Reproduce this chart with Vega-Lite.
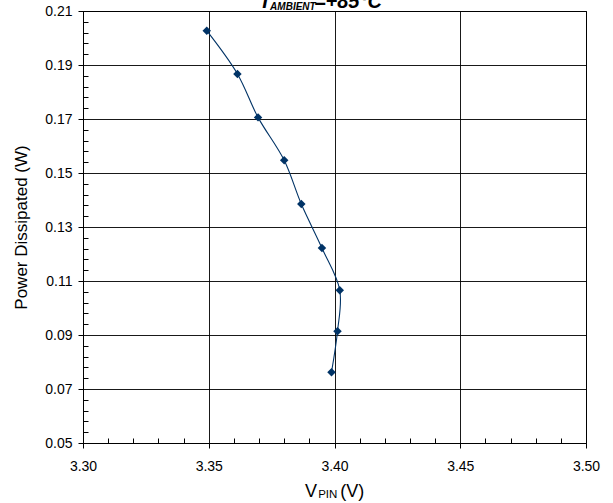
{
  "$schema": "https://vega.github.io/schema/vega-lite/v6.json",
  "width": 503,
  "height": 432,
  "autosize": "none",
  "padding": {"left": 83, "top": 11, "right": 27, "bottom": 60},
  "background": "white",
  "config": {
    "view": {"stroke": "#000", "strokeWidth": 1},
    "font": "Liberation Sans",
    "axis": {"labelFont": "Liberation Sans", "titleFont": "Liberation Sans", "labelColor": "#000", "titleColor": "#000", "tickColor": "#000", "domainColor": "#000"},
    "text": {"font": "Liberation Sans", "color": "#000"}
  },
  "data": {
    "values": [
      {"i": 1, "v": 3.3492, "p": 0.2027},
      {"i": 2, "v": 3.3614, "p": 0.1867},
      {"i": 3, "v": 3.3696, "p": 0.1706},
      {"i": 4, "v": 3.3800, "p": 0.1547},
      {"i": 5, "v": 3.3868, "p": 0.1385},
      {"i": 6, "v": 3.3950, "p": 0.1222},
      {"i": 7, "v": 3.4021, "p": 0.1066},
      {"i": 8, "v": 3.4012, "p": 0.0914},
      {"i": 9, "v": 3.3988, "p": 0.0762}
    ]
  },
  "layer": [
    {
      "mark": {"type": "line", "interpolate": "catmull-rom", "color": "#003366", "strokeWidth": 1.1},
      "encoding": {
        "x": {"field": "v", "type": "quantitative", "scale": {"domain": [3.3, 3.5], "nice": false, "zero": false},
          "axis": {"orient": "bottom", "values": [3.3, 3.35, 3.4, 3.45, 3.5], "format": ".2f", "grid": true, "gridColor": "#000", "gridOpacity": 0.9, "tickSize": 5, "labelFontSize": 14, "labelPadding": 11, "title": null, "labelFlush": false}},
        "y": {"field": "p", "type": "quantitative", "scale": {"domain": [0.05, 0.21], "nice": false, "zero": false},
          "axis": {"orient": "left", "values": [0.05, 0.07, 0.09, 0.11, 0.13, 0.15, 0.17, 0.19, 0.21], "format": ".2f", "grid": true, "gridColor": "#000", "gridOpacity": 0.9, "tickSize": 5, "labelFontSize": 14, "labelPadding": 6, "title": "Power Dissipated (W)", "titleFontSize": 17, "titleFontWeight": "normal", "titlePadding": 14, "labelFlush": false}},
        "order": {"field": "i", "type": "quantitative"}
      }
    },
    {
      "mark": {"type": "point", "shape": "diamond", "filled": true, "color": "#003366", "size": 72, "opacity": 1},
      "encoding": {
        "x": {"field": "v", "type": "quantitative", "scale": {"domain": [3.3, 3.5], "nice": false, "zero": false},
          "axis": {"orient": "bottom", "values": [3.31, 3.32, 3.33, 3.34, 3.36, 3.37, 3.38, 3.39, 3.41, 3.42, 3.43, 3.44, 3.46, 3.47, 3.48, 3.49], "labels": false, "grid": false, "domain": false, "tickSize": -5, "title": null}},
        "y": {"field": "p", "type": "quantitative", "scale": {"domain": [0.05, 0.21], "nice": false, "zero": false},
          "axis": {"orient": "left", "values": [0.054, 0.058, 0.062, 0.066, 0.074, 0.078, 0.082, 0.086, 0.094, 0.098, 0.102, 0.106, 0.114, 0.118, 0.122, 0.126, 0.134, 0.138, 0.142, 0.146, 0.154, 0.158, 0.162, 0.166, 0.174, 0.178, 0.182, 0.186, 0.194, 0.198, 0.202, 0.206], "labels": false, "grid": false, "domain": false, "tickSize": -5, "title": null}}
      }
    },
    {
      "data": {"values": [{}]},
      "mark": {"type": "text", "text": "T", "fontSize": 20, "fontWeight": "bold", "fontStyle": "italic", "align": "left", "baseline": "alphabetic", "dy": -3.2},
      "encoding": {
        "x": {"datum": 3.3700, "type": "quantitative", "scale": {"domain": [3.3, 3.5], "nice": false, "zero": false}, "axis": null},
        "y": {"datum": 0.21, "type": "quantitative", "scale": {"domain": [0.05, 0.21], "nice": false, "zero": false}, "axis": null}
      }
    },
    {
      "data": {"values": [{}]},
      "mark": {"type": "text", "text": "AMBIENT", "fontSize": 10, "fontWeight": "bold", "fontStyle": "italic", "align": "left", "baseline": "alphabetic", "dy": -1.5},
      "encoding": {
        "x": {"datum": 3.3744, "type": "quantitative", "scale": {"domain": [3.3, 3.5], "nice": false, "zero": false}, "axis": null},
        "y": {"datum": 0.21, "type": "quantitative", "scale": {"domain": [0.05, 0.21], "nice": false, "zero": false}, "axis": null}
      }
    },
    {
      "data": {"values": [{}]},
      "mark": {"type": "text", "text": "=+85°C", "fontSize": 20, "fontWeight": "bold", "fontStyle": "italic", "align": "left", "baseline": "alphabetic", "dy": -3.2},
      "encoding": {
        "x": {"datum": 3.3918, "type": "quantitative", "scale": {"domain": [3.3, 3.5], "nice": false, "zero": false}, "axis": null},
        "y": {"datum": 0.21, "type": "quantitative", "scale": {"domain": [0.05, 0.21], "nice": false, "zero": false}, "axis": null}
      }
    },
    {
      "data": {"values": [{}]},
      "mark": {"type": "text", "text": "V", "fontSize": 18, "align": "left", "baseline": "alphabetic", "dy": 53.8},
      "encoding": {
        "x": {"datum": 3.3883, "type": "quantitative", "scale": {"domain": [3.3, 3.5], "nice": false, "zero": false}, "axis": null},
        "y": {"datum": 0.05, "type": "quantitative", "scale": {"domain": [0.05, 0.21], "nice": false, "zero": false}, "axis": null}
      }
    },
    {
      "data": {"values": [{}]},
      "mark": {"type": "text", "text": "PIN", "fontSize": 11.5, "align": "left", "baseline": "alphabetic", "dy": 54.5},
      "encoding": {
        "x": {"datum": 3.3935, "type": "quantitative", "scale": {"domain": [3.3, 3.5], "nice": false, "zero": false}, "axis": null},
        "y": {"datum": 0.05, "type": "quantitative", "scale": {"domain": [0.05, 0.21], "nice": false, "zero": false}, "axis": null}
      }
    },
    {
      "data": {"values": [{}]},
      "mark": {"type": "text", "text": "(V)", "fontSize": 18, "align": "left", "baseline": "alphabetic", "dy": 53.8},
      "encoding": {
        "x": {"datum": 3.4023, "type": "quantitative", "scale": {"domain": [3.3, 3.5], "nice": false, "zero": false}, "axis": null},
        "y": {"datum": 0.05, "type": "quantitative", "scale": {"domain": [0.05, 0.21], "nice": false, "zero": false}, "axis": null}
      }
    }
  ],
  "resolve": {"axis": {"x": "independent", "y": "independent"}}
}
